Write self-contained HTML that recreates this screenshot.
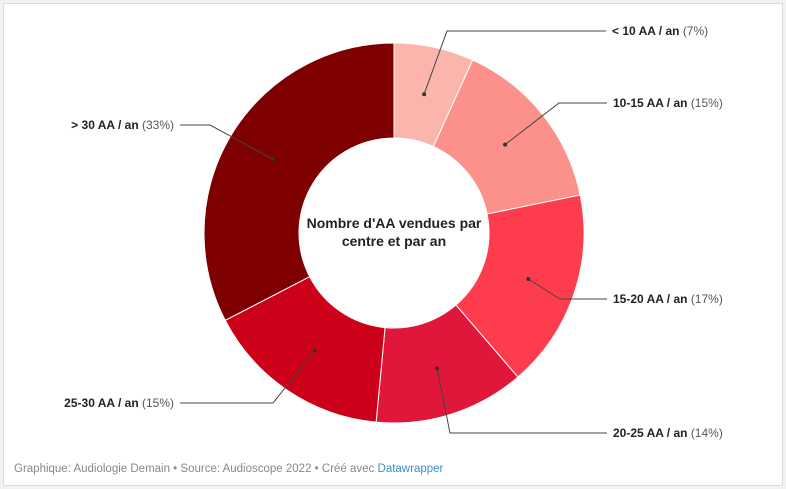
<!DOCTYPE html>
<html><head><meta charset="utf-8"><style>
body{margin:0;width:786px;height:489px;background:#f1f1f1;font-family:"Liberation Sans",sans-serif;overflow:hidden}
#box{position:absolute;left:3px;top:3px;width:778px;height:481px;background:#fff;border:1px solid #dcdcdc}
svg{position:absolute;left:0;top:0}
</style></head><body>
<div id="box"></div>
<svg id="c" width="786" height="489"></svg>
<script>
const categories=["< 10 AA / an","10-15 AA / an","15-20 AA / an","20-25 AA / an","25-30 AA / an","> 30 AA / an"];
const values=[6.8,15,16.9,12.8,15.9,32.6];
const pctLabels=["(7%)","(15%)","(17%)","(14%)","(15%)","(33%)"];
const colors=["#fbb5ad","#fb918a","#fd3d4d","#e0163a","#cc0018","#7e0000"];
const elbows=[[447,31,606],[559,103,607],[560,299,607],[450,433,607],[273,403,180],[210,125,180]];
const NS="http://www.w3.org/2000/svg";
const svg=document.getElementById('c');
const cx=394,cy=233,R=190,r=95;
const total=values.reduce((a,b)=>a+b,0);
function pt(a,rad){return [cx+rad*Math.sin(a),cy-rad*Math.cos(a)];}
let acc=0;
values.forEach((v,i)=>{
 const a0=acc/total*2*Math.PI;acc+=v;const a1=acc/total*2*Math.PI;
 const lg=(a1-a0)>Math.PI?1:0;
 const p1=pt(a0,R),p2=pt(a1,R),p3=pt(a1,r),p4=pt(a0,r);
 const p=document.createElementNS(NS,'path');
 p.setAttribute('d',`M${p1}A${R},${R} 0 ${lg} 1 ${p2}L${p3}A${r},${r} 0 ${lg} 0 ${p4}Z`);
 p.setAttribute('fill',colors[i]);p.setAttribute('stroke','#fff');p.setAttribute('stroke-width','1');
 
 
 svg.appendChild(p);
 const d=pt((a0+a1)/2,142);const e=elbows[i];
 const l=document.createElementNS(NS,'polyline');
 l.setAttribute('points',`${d} ${e[0]},${e[1]} ${e[2]},${e[1]}`);
 l.setAttribute('fill','none');l.setAttribute('stroke','#444');l.setAttribute('stroke-width','1');
 
 
 svg.appendChild(l);
 const c=document.createElementNS(NS,'circle');
 c.setAttribute('cx',d[0]);c.setAttribute('cy',d[1]);c.setAttribute('r','2');c.setAttribute('fill','#333');
 
 
 svg.appendChild(c);
 const right=e[2]>e[0];
 const t=document.createElementNS(NS,'text');
 t.setAttribute('x',right?e[2]+6:e[2]-6);t.setAttribute('y',e[1]+4);
 t.setAttribute('text-anchor',right?'start':'end');t.setAttribute('font-size','12');
 t.innerHTML=`<tspan font-weight="bold" fill="#222"></tspan><tspan fill="#555"></tspan>`;
 t.children[0].textContent=categories[i]+' ';t.children[1].textContent=pctLabels[i];
 
 
 svg.appendChild(t);
});
</script>
<svg width="786" height="489" style="pointer-events:none">
<text x="394" y="228" text-anchor="middle" font-size="14" font-weight="bold" fill="#222">Nombre d'AA vendues par</text>
<text x="394" y="246" text-anchor="middle" font-size="14" font-weight="bold" fill="#222">centre et par an</text>
<text x="14" y="472" font-size="11.5" fill="#888">Graphique: Audiologie Demain • Source: Audioscope 2022 • Créé avec <tspan fill="#3c8ebf">Datawrapper</tspan></text>
</svg>
</body></html>
